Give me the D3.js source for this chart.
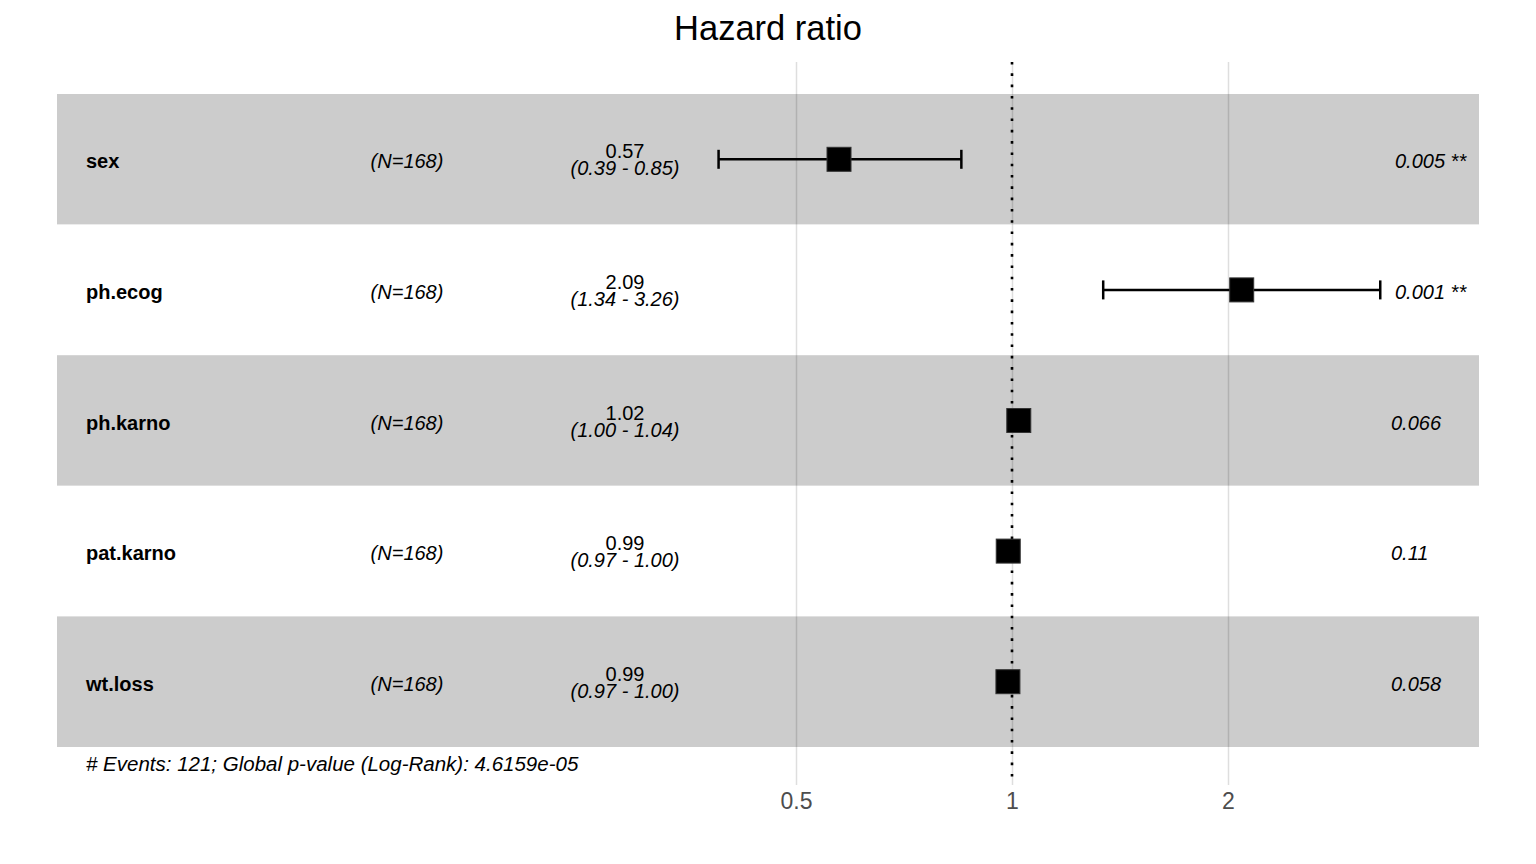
<!DOCTYPE html>
<html lang="en">
<head>
  <meta charset="UTF-8">
  <title>Hazard ratio</title>
  <style>
    body { margin: 0; background: #fff; }
    text { font-family: 'Liberation Sans', Arial, Helvetica, sans-serif; fill: #000; }
    .title { font-size: 34.5px; }
    .varName { font-size: 20px; font-weight: 700; }
    .nText, .ciText, .pText { font-size: 20px; font-style: italic; }
    .footer { font-size: 20.5px; font-style: italic; }
    .hrText { font-size: 20px; }
    .axis path { display: none; }
    .axis line { stroke: rgba(0,0,0,0.13); stroke-width: 1.5px; }
    .axis text { font-size: 23px; fill: #4d4d4d; font-family: 'Liberation Sans', Arial, sans-serif; }
  </style>
  <script src="https://cdn.jsdelivr.net/npm/d3@7/dist/d3.min.js"></script>
</head>
<body>
  <div class="container"></div>
<script>
  // data
  var variables = ['sex', 'ph.ecog', 'ph.karno', 'pat.karno', 'wt.loss'];
  var nLabels = ['(N=168)', '(N=168)', '(N=168)', '(N=168)', '(N=168)'];
  var hr = [0.574, 2.09, 1.022, 0.988, 0.987];
  var ciLow = [0.39, 1.34, 1.00, 0.973, 0.974];
  var ciHigh = [0.85, 3.26, 1.04, 1.002, 1.001];
  var pLabels = ['0.005 **', '0.001 **', '0.066', '0.11', '0.058'];
  var xTicks = [0.5, 1, 2];
  var footerText = '# Events: 121; Global p-value (Log-Rank): 4.6159e-05';

  var svgWidth = 1536, svgHeight = 864;
  var svg = d3.select('.container')
              .append('svg')
              .attr('width', svgWidth)
              .attr('height', svgHeight);

  // scales
  var x = d3.scaleLog()
            .base(2)
            .domain([0.5, 2])
            .range([796, 1228]);
  var y = d3.scaleBand()
            .domain(variables)
            .range([94, 747])
            .padding(0);

  var rows = variables.map(function(v, i) {
    return {name: v, n: nLabels[i], hr: hr[i], lo: ciLow[i], hi: ciHigh[i], p: pLabels[i], i: i};
  });

  // background bands
  svg.append('g')
     .selectAll('rect')
     .data(rows)
     .enter().append('rect')
     .attr('x', 57)
     .attr('width', 1479 - 57)
     .attr('y', d => y(d.name))
     .attr('height', y.bandwidth())
     .style('fill', d => d.i % 2 === 0 ? '#cccccc' : '#ffffff');

  // grid + axis
  var xAxis = d3.axisBottom(x)
                .tickValues(xTicks)
                .tickSize(-(785 - 62))
                .tickPadding(8)
                .tickFormat(d3.format('~g'));
  svg.append('g')
     .attr('class', 'axis')
     .attr('transform', 'translate(0,785)')
     .call(xAxis);

  // reference line at 1
  svg.append('line')
     .attr('x1', x(1)).attr('x2', x(1))
     .attr('y1', 62).attr('y2', 785)
     .style('stroke', '#000')
     .style('stroke-width', 2.6)
     .style('stroke-dasharray', '2.6,8.7');

  // error bars
  var bars = svg.append('g').selectAll('g')
     .data(rows)
     .enter().append('g')
     .attr('transform', d => 'translate(0,' + (y(d.name) + y.bandwidth() / 2) + ')');
  bars.append('line')
     .attr('x1', d => x(d.lo)).attr('x2', d => x(d.hi))
     .attr('y1', 0).attr('y2', 0)
     .style('stroke', '#000').style('stroke-width', 2.5);
  bars.append('line')
     .attr('x1', d => x(d.lo)).attr('x2', d => x(d.lo))
     .attr('y1', -9.5).attr('y2', 9.5)
     .style('stroke', '#000').style('stroke-width', 2.5);
  bars.append('line')
     .attr('x1', d => x(d.hi)).attr('x2', d => x(d.hi))
     .attr('y1', -9.5).attr('y2', 9.5)
     .style('stroke', '#000').style('stroke-width', 2.5);
  bars.append('rect')
     .attr('x', d => x(d.hr) - 12)
     .attr('y', -12)
     .attr('width', 24)
     .attr('height', 24)
     .style('fill', '#000')
     .style('stroke', '#333')
     .style('stroke-width', 1);

  // texts
  var labels = svg.append('g').selectAll('g')
     .data(rows)
     .enter().append('g')
     .attr('transform', d => 'translate(0,' + (y(d.name) + y.bandwidth() / 2) + ')');
  labels.append('text')
     .attr('class', 'varName')
     .attr('x', 86).attr('y', 9)
     .text(d => d.name);
  labels.append('text')
     .attr('class', 'nText')
     .attr('x', 407).attr('y', 9)
     .style('text-anchor', 'middle')
     .text(d => d.n);
  labels.append('text')
     .attr('class', 'hrText')
     .attr('x', 625).attr('y', -1)
     .style('text-anchor', 'middle')
     .text(d => d.hr.toFixed(2));
  labels.append('text')
     .attr('class', 'ciText')
     .attr('x', 625).attr('y', 16)
     .style('text-anchor', 'middle')
     .text(d => '(' + d.lo.toFixed(2) + ' - ' + d.hi.toFixed(2) + ')');
  labels.append('text')
     .attr('class', 'pText')
     .attr('x', d => d.p.indexOf('*') >= 0 ? 1395 : 1391)
     .attr('y', 9)
     .text(d => d.p);

  svg.append('text')
     .attr('class', 'footer')
     .attr('x', 86).attr('y', 771)
     .text(footerText);

  svg.append('text')
     .attr('class', 'title')
     .attr('x', 768).attr('y', 40)
     .style('text-anchor', 'middle')
     .text('Hazard ratio');
</script>
</body>
</html>
